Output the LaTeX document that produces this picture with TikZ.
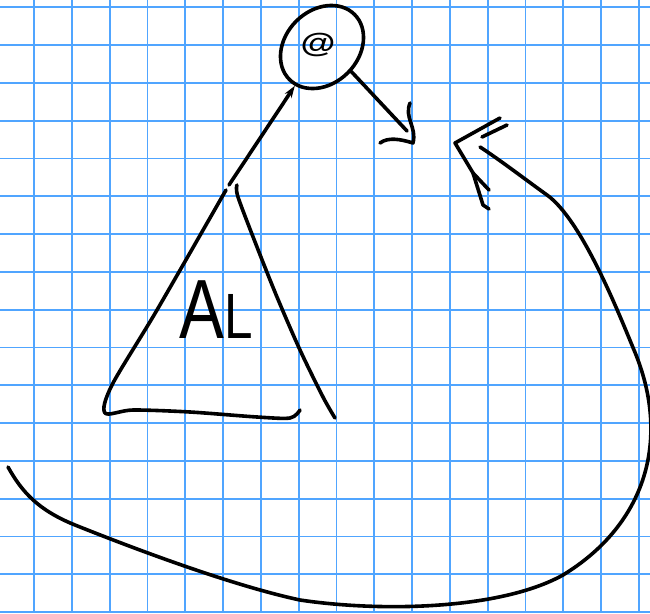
\documentclass[tikz,border=0pt]{standalone}
\usepackage{fontspec}
\setsansfont{Liberation Sans}
\usetikzlibrary{shapes.geometric,arrows.meta}
\definecolor{gridblue}{RGB}{80,165,255}
\begin{document}
\begin{tikzpicture}[x=1pt,y=-1pt,
  gridline/.style={gridblue, line width=1.8pt},
  ink/.style={black, line width=3.6pt, line cap=round, line join=round},
  label/.style={inner sep=0pt, font=\sffamily}]
\useasboundingbox (0,0) rectangle (650,613);
\fill[white] (0,0) rectangle (650,613);
\foreach \k in {0,...,16} {
  \draw[gridline] ({34+37.8*\k},0) -- ({34+37.8*\k},613);
  \draw[gridline] (0,{7.3+37.8*\k}) -- (650,{7.3+37.8*\k});
}
% application node
\node[ink, draw, ellipse, rotate=45, minimum width=92pt, minimum height=73pt, inner sep=0pt] (app) at (322,47) {};
\node[label] (at) at (318,45) {\scalebox{1.05}[0.8]{\fontsize{34}{34}\selectfont\bfseries @}};
% arrow out of the node to the right
\coordinate (rend) at (407,131);
\coordinate (rtip) at (413,143);
\draw[ink] (app.-85) -- (rend);
\draw[ink] (410,103) .. controls (404,118) and (417,127) .. (rtip) .. controls (400,139) and (388,137) .. (380,143);
% triangle AL
\coordinate (apex) at (229,185);
\draw[ink] plot[smooth, tension=0.5] coordinates {(226,190) (157,310) (112,385) (105,413) (133,410) (190,412) (257,417) (290,418) (300,410)};
\draw[ink] plot[smooth, tension=0.5] coordinates {(237,185) (238,197) (257,247) (277,297) (300,350) (323,397) (335,418)};
\node[label] (al) at (216,310) {\scalebox{0.8}[1]{\fontsize{84}{84}\selectfont A}\scalebox{0.8}[1]{\fontsize{64}{64}\selectfont L}};
% arrow from triangle to node
\draw[ink, -{Stealth[length=12pt,width=8pt]}] (apex) -- (app.190);
% big loop
\coordinate (lstart) at (8,467);
\coordinate (lend) at (480,147);
\coordinate (ltip) at (455,143);
\draw[ink] (lstart) .. controls (22,492) and (38,510) .. (75,525)
  .. controls (130,547) and (230,585) .. (300,600)
  .. controls (380,612) and (500,610) .. (563,575)
  .. controls (645,525) and (672,440) .. (634,350)
  .. controls (619,314) and (582,220) .. (547,195)
  .. controls (522,177) and (500,160) .. (lend);
\draw[ink] (500,118) -- (ltip) -- (473,173) -- (483,205) -- (489,209);
\draw[ink] (482,137) -- (507,125);
\draw[ink] (473,173) -- (489,190);
\end{tikzpicture}
\end{document}
